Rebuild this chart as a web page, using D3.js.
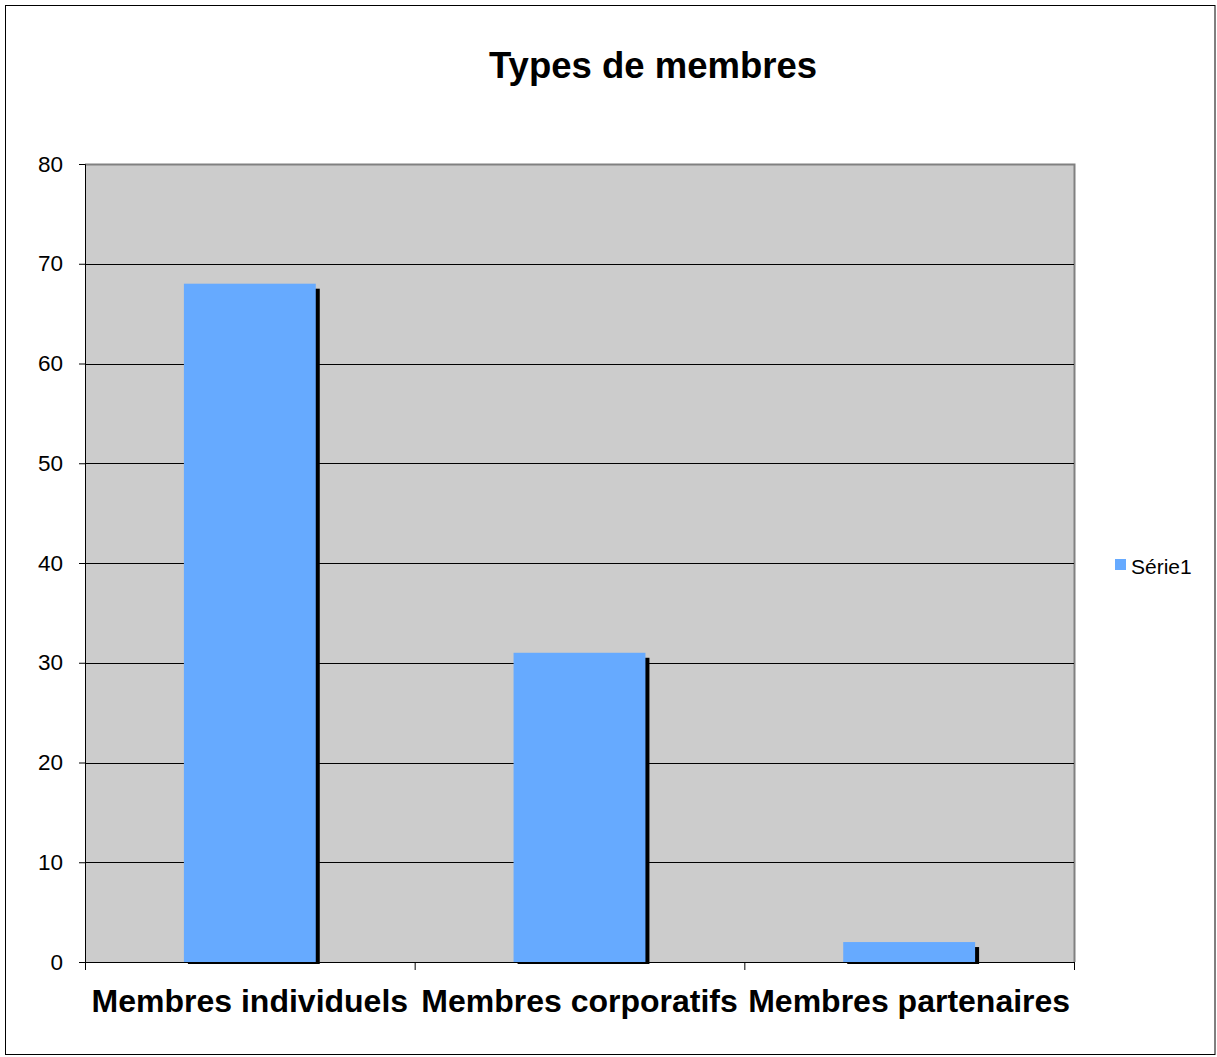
<!DOCTYPE html>
<html><head><meta charset="utf-8">
<script src="https://cdn.jsdelivr.net/npm/d3@7"></script>
<style>html,body{margin:0;padding:0;background:#fff;}svg{display:block;font-family:"Liberation Sans",Arial,sans-serif;}</style>
</head><body>
<script>
const categories = ["Membres individuels", "Membres corporatifs", "Membres partenaires"];
const values = [68, 31, 2];
const yTicks = [0, 10, 20, 30, 40, 50, 60, 70, 80];
const seriesName = "Série1";
const title = "Types de membres";

const W = 1217, H = 1057;
const svg = d3.select("body").append("svg").attr("width", W).attr("height", H);
svg.append("rect").attr("x", 5.5).attr("y", 5.5).attr("width", 1209.5).attr("height", 1049)
  .attr("fill", "#fff").attr("stroke", "#000").attr("stroke-width", 1);

const L = 85, R = 1074, T = 164, B = 962;
const x = d3.scaleBand().domain(categories).range([L, R]).paddingInner(0.6).paddingOuter(0.3);
const y = d3.scaleLinear().domain([0, 80]).range([B, T]);

svg.append("rect").attr("x", L).attr("y", T).attr("width", R - L).attr("height", B - T)
  .attr("fill", "#cccccc");
svg.append("path").attr("d", `M${L},${T+0.5}H${R+0.5}V${B}`).attr("fill", "none").attr("stroke", "#808080").attr("stroke-width", 2);

// gridlines
svg.append("g").selectAll("line").data(yTicks.filter(d => d > 0 && d < 80)).join("line")
  .attr("x1", L).attr("x2", R).attr("y1", d => Math.round(y(d)) + 0.5).attr("y2", d => Math.round(y(d)) + 0.5)
  .attr("stroke", "#000").attr("stroke-width", 1);

// shadows
svg.append("g").selectAll("rect").data(values).join("rect")
  .attr("x", (d, i) => x(categories[i]) + 4).attr("y", d => y(d) + 5)
  .attr("width", x.bandwidth()).attr("height", d => B + 2 - (y(d) + 5))
  .attr("fill", "#000");
// bars
svg.append("g").selectAll("rect").data(values).join("rect")
  .attr("x", (d, i) => x(categories[i])).attr("y", d => y(d))
  .attr("width", x.bandwidth()).attr("height", d => B - y(d))
  .attr("fill", "#66aaff");

// y axis
const yAxis = d3.axisLeft(y).tickValues(yTicks).tickSize(6).tickPadding(16);
const gy = svg.append("g").attr("transform", `translate(${L},0)`).call(yAxis);
gy.select(".domain").attr("stroke", "#000").attr("stroke-width", 1);
gy.selectAll(".tick line").attr("stroke", "#000");
gy.selectAll("text").attr("font-size", 22.5).attr("fill", "#000").attr("font-family", "Liberation Sans, Arial, sans-serif");

// x axis
svg.append("line").attr("x1", L).attr("x2", R).attr("y1", B + 0.5).attr("y2", B + 0.5).attr("stroke", "#000");
const bounds = d3.range(categories.length + 1).map(i => L + (R - L) * i / categories.length);
svg.append("g").selectAll("line").data(bounds).join("line")
  .attr("x1", d => d + 0.5).attr("x2", d => d + 0.5).attr("y1", B).attr("y2", B + 8)
  .attr("stroke", "#000");
svg.append("g").selectAll("text").data(categories).join("text")
  .attr("x", d => x(d) + x.bandwidth() / 2).attr("y", 1012)
  .attr("text-anchor", "middle").attr("font-size", 32).attr("font-weight", "bold").attr("fill", "#000")
  .text(d => d);

// title
svg.append("text").attr("x", 653).attr("y", 78).attr("text-anchor", "middle")
  .attr("font-size", 36.5).attr("font-weight", "bold").text(title);

// legend
const lg = svg.append("g").attr("transform", "translate(1115,559)");
lg.append("rect").attr("width", 11).attr("height", 11).attr("fill", "#66aaff");
lg.append("text").attr("x", 16).attr("y", 15).attr("font-size", 21).attr("fill", "#000").text(seriesName);
</script>
</body></html>
